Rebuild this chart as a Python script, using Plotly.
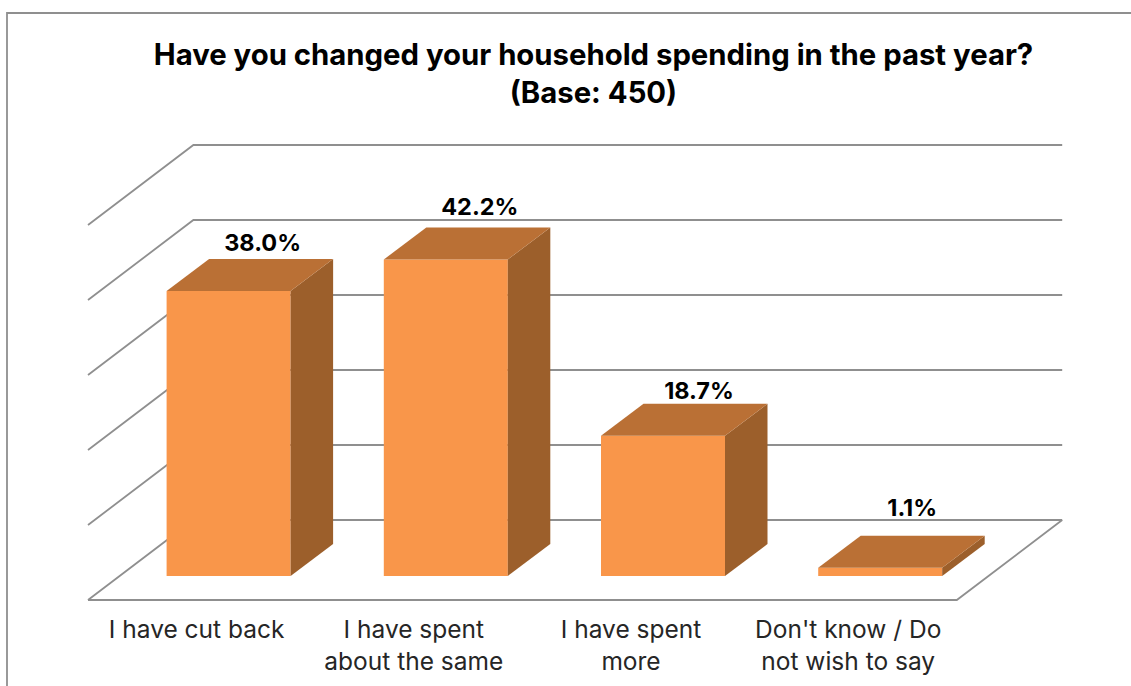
import plotly.graph_objects as go

categories = ["I have cut back", "I have spent about the same", "I have spent more", "Don't know / Do not wish to say"]
tick_labels = ["I have cut back", "I have spent<br>about the same", "I have spent<br>more", "Don't know / Do<br>not wish to say"]
values = [38.0, 42.2, 18.7, 1.1]
grid_values = [0, 10, 20, 30, 40, 50]
label_texts = ["<b>38.0%</b>", "<b>42.2%</b>", "<b>18.7%</b>", "<b>1.1%</b>"]

PX_X = 217.2   # pixels per category
PX_Y = 7.5     # pixels per percent
BAR_SHIFT = 32 / PX_X
BAR_W = 124 / PX_X
BAR_DX = 42.5 / PX_X
BAR_DY = 32 / PX_Y
WALL_DX = 105.4 / PX_X
FLOOR_FRONT = -24 / PX_Y
WALL_BACK = 56 / PX_Y
label_shift = [34 / PX_X, 34 / PX_X, 36 / PX_X, 32 / PX_X]
label_lift = [46 / PX_Y, 50 / PX_Y, 43 / PX_Y, 58 / PX_Y]

FRONT, TOP, SIDE = "#F9964A", "#BA7035", "#9C5F2B"
GRID = "#8F8F8F"
FONT = "Inter"
PLOT_H = 607

fig = go.Figure()

n = len(values)
left, right = -0.5, n - 0.5
for v in grid_values:
    fig.add_trace(go.Scatter(
        x=[left, left + WALL_DX, right + WALL_DX],
        y=[v + FLOOR_FRONT, v + WALL_BACK, v + WALL_BACK],
        mode="lines", line=dict(color=GRID, width=1.8), hoverinfo="skip", cliponaxis=False))
fig.add_trace(go.Scatter(
    x=[left, right, right + WALL_DX],
    y=[FLOOR_FRONT, FLOOR_FRONT, WALL_BACK],
    mode="lines", line=dict(color=GRID, width=1.8), hoverinfo="skip", cliponaxis=False))

xs = [i + BAR_SHIFT for i in range(n)]
fig.add_trace(go.Bar(x=xs, y=values, width=BAR_W, marker=dict(color=FRONT, line=dict(width=0)),
                     xaxis="x2", yaxis="y2", hoverinfo="skip"))
for x, v in zip(xs, values):
    x0, x1 = x - BAR_W / 2, x + BAR_W / 2
    fig.add_trace(go.Scatter(
        x=[x1, x1, x1 + BAR_DX, x1 + BAR_DX, x1], y=[0, v, v + BAR_DY, BAR_DY, 0],
        mode="lines", fill="toself", fillcolor=SIDE, line=dict(width=0), xaxis="x2", yaxis="y2", hoverinfo="skip"))
    fig.add_trace(go.Scatter(
        x=[x0, x1, x1 + BAR_DX, x0 + BAR_DX, x0], y=[v, v, v + BAR_DY, v + BAR_DY, v],
        mode="lines", fill="toself", fillcolor=TOP, line=dict(width=0), xaxis="x2", yaxis="y2", hoverinfo="skip"))

fig.add_trace(go.Scatter(
    x=[x + s for x, s in zip(xs, label_shift)], y=[v + l for v, l in zip(values, label_lift)],
    text=label_texts, mode="text", textposition="middle center",
    textfont=dict(family=FONT, size=23.5, color="#000000"), xaxis="x2", yaxis="y2", hoverinfo="skip"))

x_range = [-196.6 / PX_X, (1131 - 196.6) / PX_X]
y_range = [(576 - PLOT_H) / PX_Y, 576 / PX_Y]
fig.update_layout(
    width=1131, height=686, autosize=False,
    margin=dict(l=0, r=0, t=0, b=686 - PLOT_H, pad=0),
    paper_bgcolor="white", plot_bgcolor="white", showlegend=False,
    title=dict(text="<b>Have you changed your household spending in the past year?<br>(Base: 450)</b>",
               x=593.5 / 1131, xanchor="center", xref="paper", y=1 - 65 / 686, yanchor="top", yref="container",
               font=dict(family=FONT, size=29.3, color="#000000")),
    xaxis=dict(range=x_range, tickmode="array", tickvals=list(range(n)), ticktext=tick_labels,
               showgrid=False, zeroline=False, showline=False, ticks="outside", ticklen=1, tickcolor="rgba(0,0,0,0)",
               tickfont=dict(family=FONT, size=24.5, color="#262626")),
    yaxis=dict(range=y_range, showticklabels=False, showgrid=False, zeroline=False, showline=False, ticks=""),
    xaxis2=dict(range=x_range, overlaying="x", visible=False),
    yaxis2=dict(range=y_range, overlaying="y", visible=False),
    shapes=[dict(type="path", xref="paper", yref="paper",
                 path=f"M {7/1131} {-(686-PLOT_H)/PLOT_H} L {7/1131} {1-13/PLOT_H} L 1 {1-13/PLOT_H}",
                 line=dict(color="#8F8F8F", width=1.8))],
)
fig.write_html("out.html", post_script="document.body.style.margin='0';", config={"displayModeBar": False})
